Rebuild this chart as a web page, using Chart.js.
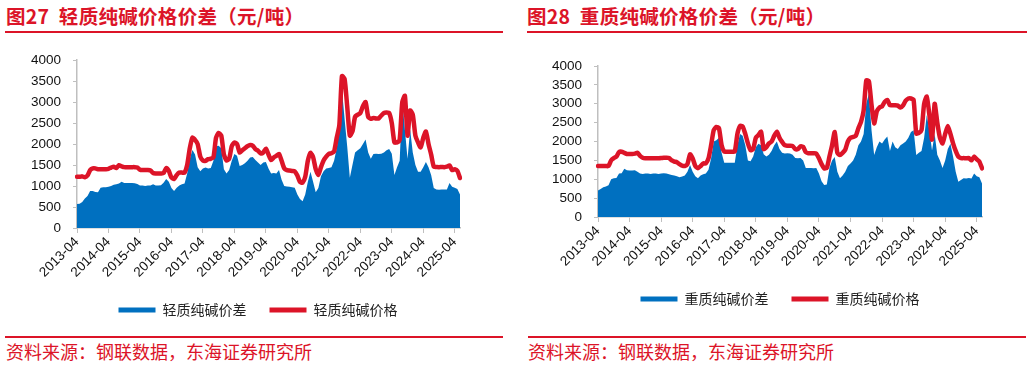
<!DOCTYPE html>
<html>
<head>
<meta charset="utf-8">
<script src="https://cdn.jsdelivr.net/npm/chart.js@4.4.1/dist/chart.umd.min.js"></script>
<style>
  body { margin: 0; width: 1032px; height: 366px; background: #fff; position: relative; overflow: hidden; }
  .title { position: absolute; top: 6px; font: bold 19.5px/19px 'Noto Sans CJK SC', sans-serif; letter-spacing: 0.3px; color: #dc1428; white-space: pre; }
  .rule { position: absolute; background: #dc1428; }
  .src { position: absolute; top: 342px; font: 18px/18px 'Noto Sans CJK SC', sans-serif; color: #dc1428; white-space: pre; }
  .box { position: absolute; }
</style>
</head>
<body>
<div class="title" style="left:6px">图27  轻质纯碱价格价差（元/吨）</div>
<div class="rule" style="left:5px;top:31px;width:498px;height:2px"></div>
<div class="box" style="left:0;top:40px"><canvas id="c1" width="516" height="287"></canvas></div>
<div class="rule" style="left:5px;top:336px;width:498px;height:1.5px"></div>
<div class="src" style="left:6px">资料来源：钢联数据，东海证券研究所</div>

<div class="title" style="left:527px">图28  重质纯碱价格价差（元/吨）</div>
<div class="rule" style="left:527px;top:31px;width:500px;height:2px"></div>
<div class="box" style="left:522px;top:40px"><canvas id="c2" width="516" height="276"></canvas></div>
<div class="rule" style="left:528px;top:336px;width:498px;height:1.5px"></div>
<div class="src" style="left:528px">资料来源：钢联数据，东海证券研究所</div>

<script>
// monthly points, 2013-04 .. 2025-06
const months = [];
for (let i = 0; i < 147; i++) {
  const y = 2013 + Math.floor((3 + i) / 12);
  const m = (3 + i) % 12 + 1;
  months.push(y + '-' + (m < 10 ? '0' + m : m));
}

const lightPrice = [
  1220,1220,1230,1210,1250,1380,1420,1420,1400,1400,1400,1400,
  1410,1440,1460,1430,1495,1470,1450,1450,1450,1450,1450,1440,
  1390,1380,1380,1380,1370,1310,1300,1300,1300,1310,1430,1360,
  1200,1170,1260,1320,1320,1320,1500,1900,2150,2100,2000,1700,
  1610,1600,1640,1650,1680,2150,2265,2200,1750,1610,1650,1950,
  2035,2000,1800,1850,1900,1950,1980,1960,1880,1840,1780,1800,
  1890,1750,1620,1680,1720,1765,1600,1420,1380,1370,1360,1350,
  1250,1100,1080,1220,1600,1790,1690,1400,1265,1450,1610,1700,
  1765,1780,1820,2150,2450,3620,3550,2900,2200,2300,2650,2700,
  2740,2900,3000,2650,2600,2620,2610,2610,2680,2740,2750,2740,
  2500,2040,2040,2100,3000,3150,2200,2800,2700,2200,2040,1920,
  2150,2300,2000,1750,1460,1455,1450,1455,1450,1460,1490,1380,
  1400,1360,1190
];
const lightSpread = [
  570,580,620,700,760,880,880,860,850,960,970,970,
  980,1000,1030,1040,1060,1100,1070,1070,1070,1070,1065,1050,
  1010,1010,1000,1010,1010,1040,1010,1010,1020,1080,1170,1100,
  950,880,960,1010,1040,1060,1300,1650,1860,1750,1450,1350,
  1420,1440,1420,1430,1600,1950,1960,1900,1400,1300,1380,1600,
  1760,1720,1480,1500,1540,1600,1680,1690,1620,1560,1500,1560,
  1570,1420,1300,1310,1300,1380,1150,1000,990,980,970,960,
  800,690,640,800,1100,1340,1100,850,950,1230,1350,1420,
  1430,1450,1600,1900,2340,3300,2600,1950,1200,1500,1800,1850,
  1900,2000,2110,1800,1650,1760,1770,1760,1770,1800,1850,1880,
  1770,1265,1450,1600,3035,2340,1650,2340,1800,1500,1340,1340,
  1450,1570,1450,1265,950,915,910,915,920,915,1070,980,
  960,930,800
];
const heavyPrice = [
  1350,1350,1350,1350,1350,1500,1560,1600,1720,1730,1700,1670,
  1670,1670,1680,1700,1620,1570,1555,1555,1555,1555,1555,1555,
  1560,1570,1570,1560,1500,1470,1450,1400,1360,1350,1400,1660,
  1550,1350,1290,1350,1420,1420,1550,1900,2300,2385,2350,1900,
  1730,1730,1730,1730,1730,2200,2410,2400,2200,1950,1770,1800,
  2100,2170,2260,1800,1850,1950,2000,2150,2260,2100,1990,1900,
  1890,1890,1880,1800,1800,1870,1860,1720,1690,1690,1690,1680,
  1555,1400,1290,1300,1600,1900,2250,1700,1640,1700,1780,2000,
  2100,2120,2150,2350,2520,2820,3620,3600,2970,2480,2800,2900,
  2930,3050,3100,2960,2960,2960,2950,2900,2960,3080,3140,3140,
  3100,2210,2230,2300,3000,3190,2700,2050,3000,2500,2100,1950,
  2200,2410,2200,1950,1750,1600,1560,1560,1555,1560,1500,1600,
  1530,1470,1290
];
const heavySpread = [
  700,740,790,810,840,1000,1025,1030,1150,1160,1280,1240,
  1235,1235,1240,1200,1150,1140,1150,1150,1140,1150,1150,1140,
  1150,1160,1150,1130,1110,1100,1080,1050,1070,1100,1200,1375,
  1200,1080,1025,1100,1130,1150,1250,1550,2000,2030,2100,1700,
  1440,1440,1440,1440,1440,1900,2200,2150,1900,1500,1480,1600,
  1850,1940,1900,1660,1600,1650,1750,1900,2000,1800,1700,1680,
  1690,1680,1650,1560,1555,1560,1500,1300,1300,1300,1290,1300,
  1150,950,850,860,1300,1500,1590,1200,1025,1100,1200,1350,
  1420,1500,1650,1900,2000,2200,3000,3270,2300,1640,1850,2000,
  1950,2050,2130,1750,2000,1850,1800,1900,1950,2000,2100,2250,
  2300,1640,1700,1750,2100,2700,2300,1760,2200,1650,1500,1300,
  1500,1800,1940,1600,1200,935,980,1025,1020,1030,1020,1150,
  1080,1050,890
];

const RED = '#dc1428';
const BLUE = '#0070c0';
const AXIS = '#bfbfbf';
const numFont = { family: "'Liberation Sans', Arial, sans-serif", size: 13.5 };
const cjkFont = { family: "'Noto Sans CJK SC', sans-serif", size: 14 };

function makeChart(id, spread, price, spreadName, priceName, padTop, yWidth, rightGap, xHeight) {
  return new Chart(document.getElementById(id), {
    type: 'line',
    data: {
      labels: months,
      datasets: [
        { label: priceName, data: price, borderColor: RED, backgroundColor: RED, borderWidth: 4.5,
          pointRadius: 0, fill: false, tension: 0.2, borderJoinStyle: 'round', borderCapStyle: 'round' },
        { label: spreadName, data: spread, borderColor: BLUE, backgroundColor: BLUE, borderWidth: 0,
          pointRadius: 0, fill: 'origin', tension: 0 }
      ]
    },
    options: {
      responsive: false,
      animation: false,
      devicePixelRatio: 1,
      layout: { padding: { top: padTop, right: 0, left: 0, bottom: 0 } },
      plugins: {
        tooltip: { enabled: false },
        legend: {
          position: 'bottom',
          reverse: true,
          labels: {
            boxWidth: 37, boxHeight: 5, padding: 23, color: '#222', font: cjkFont,
            generateLabels: function (chart) {
              const items = Chart.defaults.plugins.legend.labels.generateLabels(chart);
              items.forEach(function (it) { it.lineWidth = 0; it.strokeStyle = it.fillStyle; });
              return items;
            }
          }
        }
      },
      scales: {
        x: {
          grid: { drawOnChartArea: false, drawTicks: true, tickLength: 5,
                  tickColor: function (c) { return c.index % 12 === 0 ? AXIS : 'rgba(0,0,0,0)'; } },
          border: { color: AXIS, width: 1.5 },
          ticks: {
            autoSkip: false, minRotation: 45, maxRotation: 45, padding: 1, color: '#111', font: numFont,
            callback: function (v, i) { return i % 12 === 0 ? this.getLabelForValue(v) : ''; }
          },
          afterFit: function (s) { s.height = xHeight; }
        },
        y: {
          min: 0, max: 4000,
          grid: { drawOnChartArea: false, drawTicks: true, tickLength: 4, tickColor: AXIS },
          border: { color: AXIS, width: 1.5 },
          ticks: { stepSize: 500, autoSkip: false, padding: 12, color: '#111', font: numFont,
                   callback: function (v) { return String(v); } },
          afterFit: function (s) { s.width = yWidth; }
        },
        // empty right-hand axis: only reserves the blank strip right of the plot
        gap: {
          position: 'right', display: true,
          ticks: { display: false }, grid: { display: false }, border: { display: false },
          afterFit: function (s) { s.width = rightGap; }
        }
      }
    }
  });
}

makeChart('c1', lightSpread, lightPrice, '轻质纯碱价差', '轻质纯碱价格', 15, 77, 56, 52);
makeChart('c2', heavySpread, heavyPrice, '重质纯碱价差', '重质纯碱价格', 26, 76, 56, 52);
</script>
</body>
</html>
